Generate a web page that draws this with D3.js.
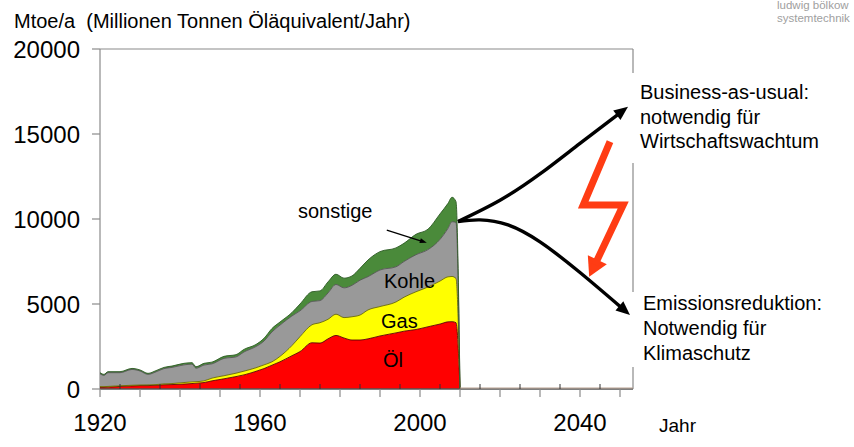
<!DOCTYPE html>
<html><head><meta charset="utf-8">
<script src="https://cdn.jsdelivr.net/npm/d3@7"></script>
<style>body{margin:0;background:#fff}svg{display:block}text{font-family:"Liberation Sans",Arial,sans-serif;white-space:pre}</style>
</head><body>
<svg id="c" width="854" height="447"></svg>
<script>
// ---- data ----
const years = [1920,1921,1922,1925,1928,1930,1932,1934,1936,1938,1941,1943,1944,1946,1948,1951,1954,1956,1959,1961,1963,1965,1968,1970,1973,1975,1977,1979,1981,1983,1985,1987,1990,1994,1996,1999,2002,2005,2007,2008,2009,2010];
const oil   = [100,100,110,150,180,200,200,220,250,260,290,320,340,380,480,600,730,830,1040,1200,1400,1600,1960,2200,2720,2700,2950,3150,3000,2880,2880,2950,3120,3300,3400,3500,3660,3820,3950,3960,3900,0];
const gas   = [40,40,40,40,40,35,40,40,50,60,90,100,90,100,160,180,200,220,210,220,200,320,600,880,1060,1200,1150,1250,1200,1370,1470,1700,1730,1820,2000,2220,2340,2530,2650,2660,2600,0];
const coal  = [760,660,810,770,930,825,620,750,900,950,1040,1040,790,930,840,1020,960,1130,1250,1400,1760,1840,1740,1520,1370,1300,1550,1750,1750,1850,2050,1960,2150,2070,2100,2180,2200,2450,2850,3220,3300,0];
const other = [60,60,60,60,60,60,60,70,70,80,90,90,90,100,100,120,130,150,120,160,200,180,200,400,570,570,650,600,570,550,700,980,1080,1110,1070,1200,1200,1500,1470,1440,1220,0];
const seriesNames = ["Öl","Gas","Kohle","sonstige"];
const seriesColors = ["#ff0000","#ffff00","#999999","#4a8a3a"];
const seriesLines = ["#5a0000","#6b6b00","#555555","#2c5a24"];

// projections
const bauYears  = [2009.5,2020,2030,2040,2052];
const bauValues = [9850,11100,12650,14450,16600];
const emYears   = [2009.5,2015,2022,2030,2040,2052.5];
const emValues  = [9850,9950,9650,8650,6850,4350];
const boltYears  = [2047.5,2040.8,2050.8,2042.3];
const boltValues = [14550,10820,10820,6600];
const sonstArrowYears = [1991.7,2001.7];
const sonstArrowValues = [9350,8600];

const yTicks = [0,5000,10000,15000,20000];
const xLabelYears = [1920,1960,2000,2040];

const titleText = "Mtoe/a  (Millionen Tonnen Öläquivalent/Jahr)";
const bauText = ["Business-as-usual:","notwendig für","Wirtschaftswachtum"];
const emText = ["Emissionsreduktion:","Notwendig für","Klimaschutz"];
const logoText = ["ludwig bölkow","systemtechnik"];

// ---- scales ----
const svg = d3.select("#c");
const x = d3.scaleLinear().domain([1920,2053.25]).range([100,633]);
const y = d3.scaleLinear().domain([0,20000]).range([389,49]);

const table = years.map((yr,i)=>({year:yr,"Öl":oil[i],"Gas":gas[i],"Kohle":coal[i],"sonstige":other[i]}));
const stack = d3.stack().keys(seriesNames)(table);

const area = d3.area().x(d=>x(d.data.year)).y0(d=>y(d[0])).y1(d=>y(d[1])).curve(d3.curveMonotoneX);
const topLine = d3.line().x(d=>x(d.data.year)).y(d=>y(d[1])).curve(d3.curveMonotoneX);

// frame
const frame = svg.append("g").attr("stroke","#8a8a8a").attr("stroke-width",1.2).attr("fill","none");
frame.append("line").attr("x1",x(1920)).attr("x2",x.range()[1]).attr("y1",y(20000)).attr("y2",y(20000));
frame.append("line").attr("x1",x.range()[1]).attr("x2",x.range()[1]).attr("y1",y(20000)).attr("y2",y(0));
frame.append("line").attr("x1",x(1920)).attr("x2",x(1920)).attr("y1",y(20000)).attr("y2",y(0));

// areas
stack.forEach((s,i)=>{
  svg.append("path").datum(s).attr("d",area).attr("fill",seriesColors[i]);
});
stack.forEach((s,i)=>{
  svg.append("path").datum(s).attr("d",topLine).attr("fill","none").attr("stroke",seriesLines[i]).attr("stroke-width",0.9);
});

// y ticks
svg.append("g").selectAll("line").data(yTicks).join("line")
  .attr("x1",x(1920)-8).attr("x2",x(1920)).attr("y1",d=>y(d)).attr("y2",d=>y(d))
  .attr("stroke","#8a8a8a").attr("stroke-width",1.2);
svg.append("g").selectAll("text").data(yTicks).join("text")
  .attr("x",80).attr("y",d=>y(d)+8.5).attr("text-anchor","end")
  .attr("font-size",24).attr("fill","#000").text(d=>d);

// x axis
const majors = d3.range(1920,2051,10), minors = d3.range(1925,2050,10);
svg.append("line").attr("x1",x(1920)).attr("x2",x.range()[1]).attr("y1",y(0)).attr("y2",y(0)).attr("stroke","#555").attr("stroke-width",1.4);
svg.append("line").attr("x1",x(2010)).attr("x2",x.range()[1]).attr("y1",y(0)-1).attr("y2",y(0)-1).attr("stroke","#b8a090").attr("stroke-width",1);
svg.append("g").selectAll("line").data(majors).join("line")
  .attr("x1",d=>x(d)).attr("x2",d=>x(d)).attr("y1",y(0)).attr("y2",y(0)+8)
  .attr("stroke","#8a8a8a").attr("stroke-width",1.2);
svg.append("g").selectAll("line").data(minors).join("line")
  .attr("x1",d=>x(d)).attr("x2",d=>x(d)).attr("y1",y(0)-5).attr("y2",y(0))
  .attr("stroke","#333").attr("stroke-width",1);
svg.append("g").selectAll("text").data(xLabelYears).join("text")
  .attr("x",d=>x(d)).attr("y",431).attr("text-anchor","middle")
  .attr("font-size",24).text(d=>d);
svg.append("text").attr("x",659).attr("y",432).attr("font-size",19).text("Jahr");

// title
svg.append("text").attr("x",14).attr("y",28).attr("font-size",20).text(titleText);

// logo
logoText.forEach((t,i)=>svg.append("text").attr("x",777).attr("y",9+i*13).attr("font-size",11.5).attr("fill","#a0a0a0").text(t));

// series labels
svg.append("text").attr("x",384).attr("y",288).attr("font-size",20).text("Kohle");
svg.append("text").attr("x",381).attr("y",328).attr("font-size",20).text("Gas");
svg.append("text").attr("x",383).attr("y",367).attr("font-size",20).text("Öl");
svg.append("text").attr("x",298).attr("y",218).attr("font-size",20).text("sonstige");

// white boxes behind right texts
svg.append("rect").attr("x",631).attr("y",73).attr("width",223).attr("height",90).attr("fill","#fff");
svg.append("rect").attr("x",631).attr("y",292).attr("width",223).attr("height",75).attr("fill","#fff");

// right texts
bauText.forEach((t,i)=>svg.append("text").attr("x",640).attr("y",99+i*24.5).attr("font-size",20).text(t));
emText.forEach((t,i)=>svg.append("text").attr("x",643).attr("y",310+i*25).attr("font-size",20).text(t));

// arrow helper
function arrowHead(p0,p1,len,wid,color){
  const dx=p1[0]-p0[0], dy=p1[1]-p0[1], L=Math.hypot(dx,dy), ux=dx/L, uy=dy/L;
  const bx=p1[0]-ux*len, by=p1[1]-uy*len;
  svg.append("path").attr("d",`M${p1[0]},${p1[1]}L${bx-uy*wid/2},${by+ux*wid/2}L${bx+uy*wid/2},${by-ux*wid/2}Z`).attr("fill",color);
  return [p1[0]-ux*len*0.7, p1[1]-uy*len*0.7];
}

// projection curves
function projCurve(ys,vs){
  const pts = ys.map((yr,i)=>[x(yr),y(vs[i])]);
  const tip = pts[pts.length-1];
  const line = d3.line().curve(d3.curveNatural);
  const path = svg.append("path").attr("d",line(pts)).attr("fill","none").attr("stroke","#000").attr("stroke-width",3.4);
  const node = path.node(), total = node.getTotalLength();
  const near = node.getPointAtLength(total-8);
  path.attr("stroke-dasharray",`${total-9},${total}`);
  arrowHead([near.x,near.y],tip,14,12,"#000");
}
projCurve(bauYears,bauValues);
projCurve(emYears,emValues);

// sonstige arrow
{
  const p0=[x(sonstArrowYears[0]),y(sonstArrowValues[0])], p1=[x(sonstArrowYears[1]),y(sonstArrowValues[1])];
  const e = arrowHead(p0,p1,7,5,"#000");
  svg.append("line").attr("x1",p0[0]).attr("y1",p0[1]).attr("x2",e[0]).attr("y2",e[1]).attr("stroke","#000").attr("stroke-width",1.3);
}

// lightning bolt
{
  const pts = boltYears.map((yr,i)=>[x(yr),y(boltValues[i])]);
  const n = pts.length;
  const e = arrowHead(pts[n-2],pts[n-1],19,21,"#ff3c14");
  const body = pts.slice(0,n-1).concat([e]);
  svg.append("path").attr("d",d3.line()(body)).attr("fill","none").attr("stroke","#ff3c14").attr("stroke-width",7).attr("stroke-linejoin","miter");
}
</script>
</body></html>
